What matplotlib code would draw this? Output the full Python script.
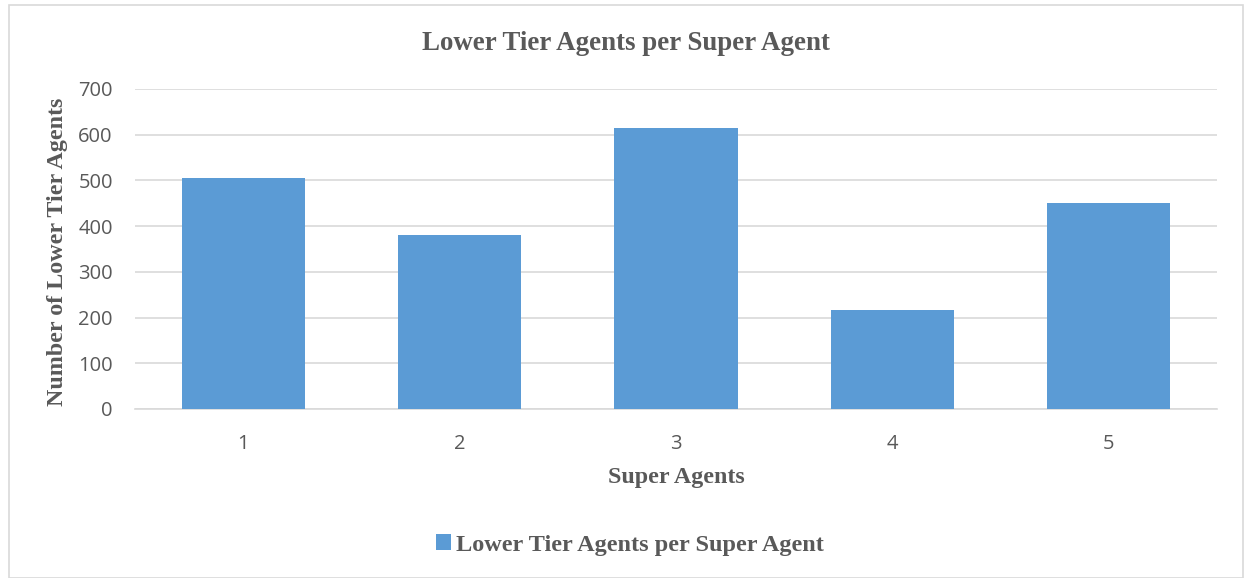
import matplotlib
matplotlib.use("Agg")
import matplotlib.pyplot as plt
from matplotlib.patches import Rectangle, Patch

categories = ["1", "2", "3", "4", "5"]
values = [505, 381, 614, 217, 451]
series_name = "Lower Tier Agents per Super Agent"
yticks = [0, 100, 200, 300, 400, 500, 600, 700]

W, H = 1244, 578
fig = plt.figure(figsize=(W / 100, H / 100), dpi=100)
fig.patch.set_facecolor("white")

# outer chart border
fig.patches.append(Rectangle((9 / W, 0), (W - 9) / W - 0.0005, (H - 5) / H, transform=fig.transFigure,
                             fill=False, edgecolor="#d9d9d9", linewidth=1.2))

ax = fig.add_axes([135 / W, (H - 409) / H, (1217 - 135) / W, (409 - 89) / H])
x = list(range(1, len(categories) + 1))
ax.bar(x, values, width=0.57, color="#5b9bd5", zorder=3, label=series_name)
ax.set_xlim(0.5, 5.5)
ax.set_ylim(0, 700)
ax.set_yticks(yticks)
ax.set_xticks(x)
ax.set_xticklabels(categories)
ax.grid(axis="y", color="#d9d9d9", linewidth=1.2, zorder=0)
for s in ["top", "right", "left"]:
    ax.spines[s].set_visible(False)
ax.spines["bottom"].set_color("#d9d9d9")
ax.spines["bottom"].set_linewidth(1.2)
ax.tick_params(axis="both", length=0, labelsize=14.5, labelcolor="#595959")
ax.tick_params(axis="x", pad=18)
ax.tick_params(axis="y", pad=16)
for lbl in ax.get_xticklabels() + ax.get_yticklabels():
    lbl.set_family("Open Sans")

serif = "Liberation Serif"
fig.text(626 / W, 1 - 43 / H, "Lower Tier Agents per Super Agent", ha="center", va="center",
         fontsize=19.4, fontweight="bold", family=serif, color="#595959")
fig.text(676 / W, 1 - 478 / H, "Super Agents", ha="center", va="center",
         fontsize=17.3, fontweight="bold", family=serif, color="#595959")
fig.text(57 / W, 1 - 252 / H, "Number of Lower Tier Agents", ha="center", va="center", rotation=90,
         fontsize=17.3, fontweight="bold", family=serif, color="#595959")

handles = [Patch(facecolor="#5b9bd5", label=series_name)]
fig.legend(handles=handles, loc="center", bbox_to_anchor=(630 / W, 1 - 545 / H), frameon=False,
           prop={"family": serif, "weight": "bold", "size": 17.5}, labelcolor="#595959",
           handlelength=0.62, handleheight=0.62, handletextpad=0.2)

fig.savefig("out.png", dpi=100, facecolor="white")
